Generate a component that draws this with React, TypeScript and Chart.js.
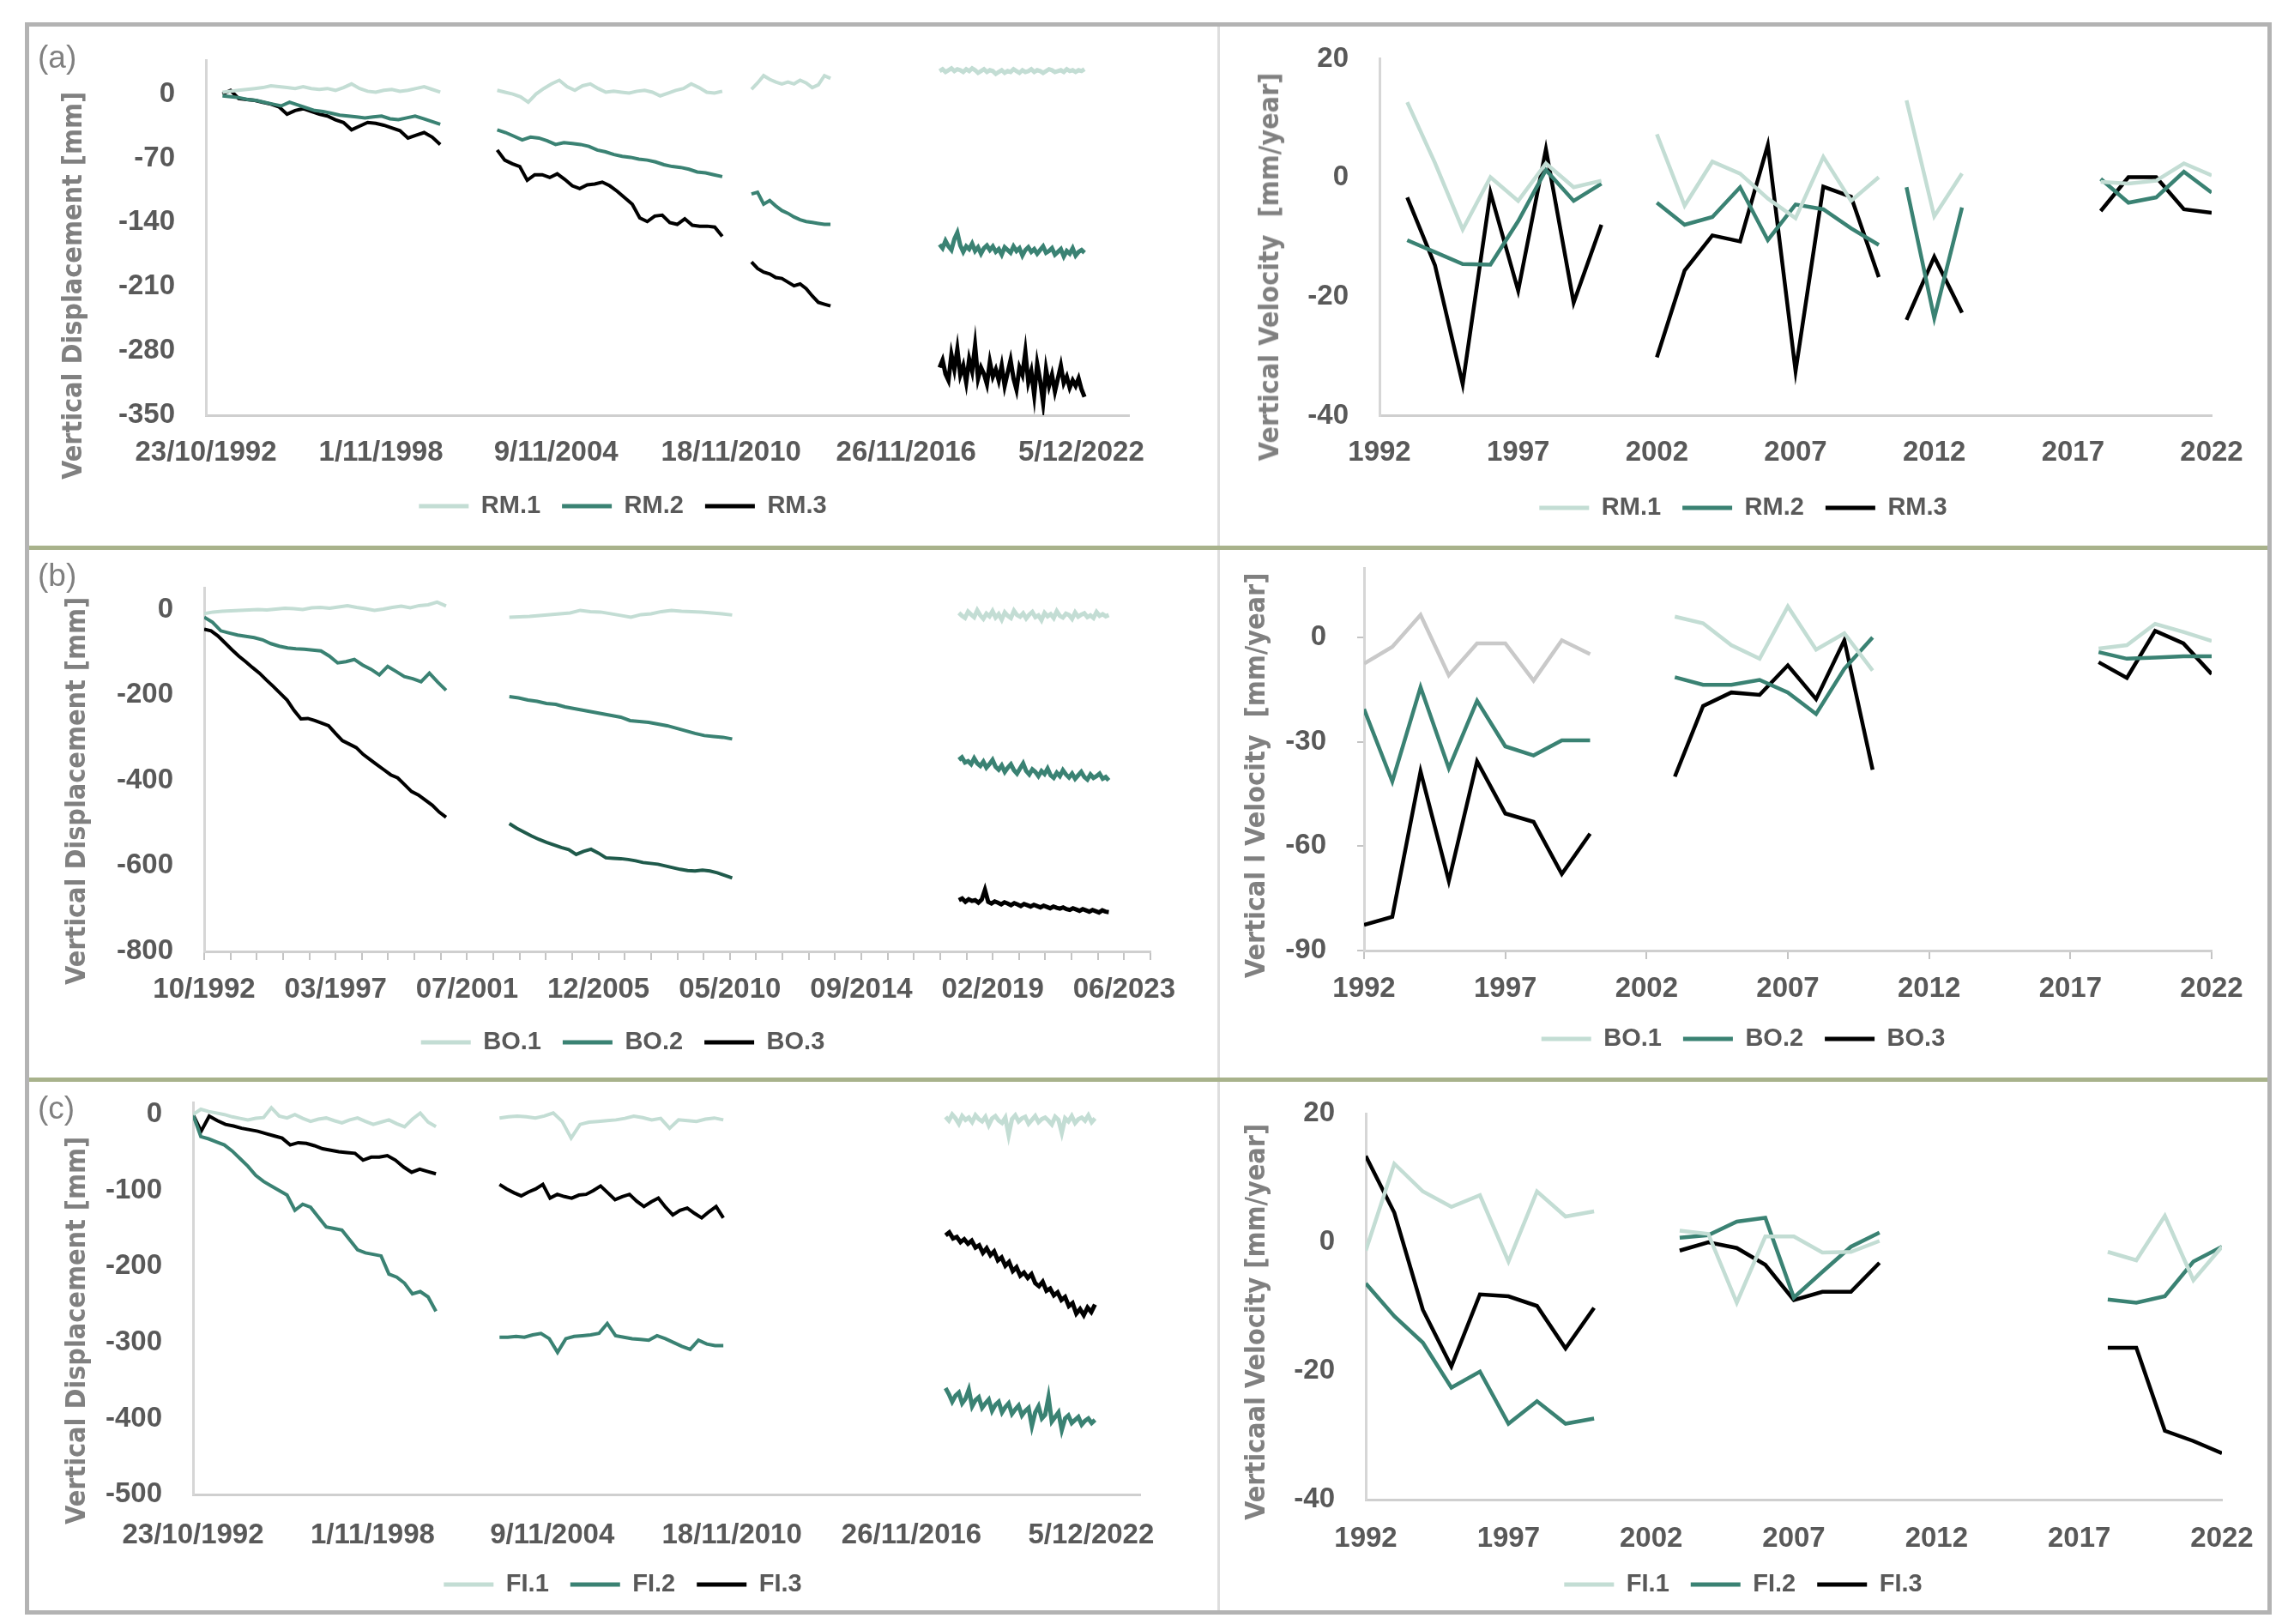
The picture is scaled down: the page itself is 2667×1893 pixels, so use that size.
import React, { useEffect, useRef } from "react";
import { Chart, registerables } from "chart.js";
Chart.register(...registerables);

const FONT = "'Liberation Sans', Arial, sans-serif";
const TITLE_FONT = "'DejaVu Sans', Verdana, sans-serif";
const TEXT = "#595959";
const C_LIGHT = "#c3ddd4";
const C_TEAL = "#3a8273";
const C_BLACK = "#000000";
const C_GRAY = "#c9c9c9";
const C_DARK = "#1f5a4b";

// ---------- axis tick labels ----------
const DATE_TICKS_AC = ["23/10/1992", "1/11/1998", "9/11/2004", "18/11/2010", "26/11/2016", "5/12/2022"];
const DATE_TICKS_B = ["10/1992", "03/1997", "07/2001", "12/2005", "05/2010", "09/2014", "02/2019", "06/2023"];
const YEAR_TICKS = [1992, 1997, 2002, 2007, 2012, 2017, 2022];
const Y_TICKS_A = [-350, -280, -210, -140, -70, 0];
const Y_TICKS_B = [-800, -600, -400, -200, 0];
const Y_TICKS_C = [-500, -400, -300, -200, -100, 0];
const V_TICKS_AC = [-40, -20, 0, 20];
const V_TICKS_B = [-90, -60, -30, 0];

// ---------- acquisition spans (d/m/yyyy) ----------
const SPAN_A = [["20/05/1993", "15/11/2000"], ["01/11/2002", "30/07/2010"], ["01/08/2011", "20/04/2014"], ["20/01/2018", "15/01/2023"]];
const SPAN_B = [["23/10/1992", "15/11/2000"], ["25/12/2002", "30/05/2010"], ["19/12/2017", "18/12/2022"]];
const SPAN_C = [["23/10/1992", "15/12/2000"], ["02/02/2003", "05/08/2010"], ["17/01/2018", "21/01/2023"]];

// ---------- (a) displacement [mm] ----------
const RM1_ERS = [2, 3, 4, 5, 6, 7, 9, 8, 7, 6, 8, 6, 5, 6, 4, 7, 11, 6, 3, 2, 4, 5, 3, 4, 6, 8, 5, 2];
const RM2_ERS = [-2, -3, -4, -6, -7, -9, -11, -13, -9, -12, -15, -18, -19, -21, -23, -24, -25, -26, -25, -24, -27, -28, -26, -24, -27, -30, -33];
const RM3_ERS = [0, 4, -5, -6, -7, -9, -11, -14, -22, -18, -16, -19, -22, -24, -28, -31, -39, -35, -31, -32, -34, -37, -40, -48, -45, -42, -47, -55];
const RM1_ENV = [4, 2, 0, -3, -9, 0, 6, 11, 15, 8, 4, 9, 11, 6, 2, 3, 2, 1, 3, 4, 2, -2, 1, 4, 6, 11, 7, 2, 1, 3];
const RM2_ENV = [-39, -42, -46, -50, -47, -48, -51, -55, -53, -54, -55, -57, -61, -63, -66, -68, -69, -71, -72, -74, -77, -79, -80, -82, -85, -86, -88, -90];
const RM3_ENV = [-61, -72, -76, -79, -94, -88, -88, -91, -87, -93, -100, -103, -99, -98, -96, -100, -106, -113, -120, -135, -139, -133, -132, -140, -142, -136, -143, -144, -144, -145, -155];
const RM1_ENV2 = [5, 12, 20, 16, 13, 11, 13, 11, 15, 12, 7, 10, 20, 17];
const RM2_ENV2 = [-109, -107, -120, -116, -122, -127, -130, -134, -137, -139, -140, -141, -142, -142];
const RM3_ENV2 = [-183, -190, -194, -196, -200, -201, -205, -209, -207, -212, -220, -227, -229, -231];
const RM1_S1 = [25, 27, 24, 26, 28, 25, 27, 26, 24, 27, 25, 28, 26, 23, 25, 27, 24, 26, 25, 22, 24, 26, 23, 25, 24, 27, 25, 23, 26, 24, 25, 27, 24, 26, 25, 23, 25, 27, 26, 24, 25, 26, 24, 27, 25, 26, 24, 26, 25, 27];
const RM2_S1 = [-164, -168, -160, -166, -170, -158, -151, -165, -172, -166, -169, -163, -171, -167, -174, -168, -165, -170, -166, -172, -169, -175, -167, -170, -173, -166, -171, -168, -176, -170, -167, -172, -169, -174, -170, -166, -173, -171, -168, -175, -172, -169, -177, -171, -174, -168, -176, -172, -170, -173];
const RM3_S1 = [-298, -290, -305, -312, -284, -300, -278, -306, -296, -314, -289, -302, -274, -310, -298, -305, -316, -292, -308, -300, -312, -296, -318, -304, -290, -310, -322, -298, -306, -281, -314, -302, -328, -294, -312, -336, -300, -318, -306, -324, -310, -296, -315, -308, -320, -312, -318, -310, -322, -330];

// ---------- (b) displacement [mm] ----------
const BO1_ERS = [-10, -6, -4, -3, -2, -1, 0, -1, 1, 3, 2, 0, 4, 5, 3, 6, 9, 5, 2, -2, 1, 5, 8, 4, 9, 11, 17, 8];
const BO2_ERS = [-18, -30, -50, -55, -60, -63, -66, -71, -80, -86, -90, -92, -93, -95, -97, -109, -125, -122, -117, -130, -140, -153, -133, -145, -157, -162, -169, -149, -170, -189];
const BO3_ERS = [-46, -50, -62, -78, -94, -109, -122, -136, -149, -165, -180, -196, -212, -236, -256, -255, -260, -266, -272, -290, -307, -315, -323, -339, -351, -363, -375, -387, -394, -410, -426, -434, -446, -458, -474, -486];
const BO1_ENV = [-18, -17, -16, -14, -12, -10, -8, -2, -5, -6, -10, -14, -18, -12, -10, -5, -2, -4, -5, -6, -8, -10, -13];
const BO2_ENV = [-204, -207, -212, -215, -220, -222, -228, -232, -236, -240, -244, -248, -252, -260, -262, -264, -268, -272, -278, -284, -290, -295, -297, -299, -303];
const BO3_ENV = [-501, -512, -521, -530, -538, -545, -551, -557, -562, -573, -566, -561, -570, -581, -582, -583, -585, -588, -592, -594, -596, -600, -604, -608, -611, -612, -610, -612, -616, -622, -628];
const BO1_S1 = [-8, -15, -20, -5, -12, -18, -2, -14, -22, -10, -16, -4, -19, -11, -24, -7, -15, -20, -3, -13, -17, -9, -21, -12, -6, -18, -14, -25, -8, -16, -11, -20, -4, -15, -19, -10, -13, -22, -7, -17, -12, -9, -18, -14, -20, -6, -15, -11, -16, -13];
const BO2_S1 = [-352, -346, -358, -355, -362, -348, -360, -366, -356, -370, -362, -352, -368, -375, -365, -380, -370, -362, -376, -384, -372, -360, -378, -386, -374, -380, -390, -378, -385, -372, -388, -394, -382, -390, -376, -386, -393, -384, -396, -388, -380, -392, -398, -386, -394, -390, -384, -396, -392, -400];
const BO3_S1 = [-680, -676, -684, -678, -682, -680, -686, -679, -656, -684, -688, -683, -686, -690, -685, -688, -692, -687, -690, -694, -689, -692, -695, -691, -694, -697, -693, -696, -699, -695, -698, -700, -697, -701, -703, -699, -702, -705, -701, -704, -707, -703, -706, -709, -704, -707, -708];

// ---------- (c) displacement [mm] ----------
const FI1_ERS = [0, 7, 4, 2, 0, -3, -5, -7, -5, -4, 9, -2, -4.5, 0, -5, -9, -6, -4.5, -8, -11, -7, -4.5, -9, -13, -10, -7, -12, -16, -6, 2, -10, -16];
const FI2_ERS = [0, -29, -32, -36, -40, -48, -58, -68, -80, -88, -94, -100, -106, -126, -118, -122, -135, -148, -150, -152, -165, -178, -182, -184, -186, -210, -214, -222, -236, -233, -240, -259];
const FI3_ERS = [0, -22, -2, -8, -13, -15, -18, -20, -22, -25, -28, -31, -40, -37, -38, -41, -45, -47, -49, -50, -51, -60, -56, -56, -54, -60, -69, -76, -72, -75, -78];
const FI1_ENV = [-4.5, -3, -2, -3, -4.5, -2, 2, -9, -31, -13, -10, -9, -8, -7, -5, -2, -4, -7, -5, -18, -7, -8, -9, -6, -4.5, -7];
const FI2_ENV = [-293, -293, -292, -293, -290, -288, -295, -313, -295, -292, -291, -290, -288, -275, -291, -293, -295, -296, -297, -291, -295, -300, -305, -309, -297, -302, -304, -304];
const FI3_ENV = [-92, -98, -103, -107, -102, -98, -92, -110, -105, -108, -110, -106, -105, -100, -94, -103, -112, -108, -105, -114, -121, -115, -110, -122, -132, -126, -123, -130, -136, -128, -121, -136];
const FI1_S1 = [-3, -8, 0, -5, -12, -2, -7, -4, -10, -1, -6, -9, -3, -14, -5, -2, -8, -11, -4, -27, -6, -1, -9, -5, -3, -12, -7, -2, -10, -6, -4, -8, -13, -3, -7, -24, -5, -9, -2, -11, -6, -4, -8, -1, -10, -5];
const FI2_S1 = [-360, -368, -378, -370, -366, -380, -374, -362, -384, -376, -372, -386, -380, -375, -390, -382, -378, -392, -385, -380, -394, -388, -383, -396, -390, -386, -410, -392, -384, -400, -395, -372, -404, -398, -392, -415, -400, -396, -406, -402, -398, -408, -403, -400, -406, -402];
const FI3_S1 = [-159, -155, -163, -161, -168, -164, -170, -166, -175, -172, -182, -176, -185, -180, -192, -188, -199, -194, -206, -201, -212, -208, -215, -210, -222, -226, -220, -232, -229, -238, -234, -244, -240, -252, -248, -262, -256, -264, -254, -260, -250];

// ---------- velocities [mm/year]: [year, value] (null = break) ----------
type VP = [number, number | null];
const RM1_VEL: VP[] = [[1993, 12.7], [1994, 2.5], [1995, -8.7], [1996, 0.1], [1997, -3.9], [1998, 2.4], [1999, -1.6], [2000, -0.5], [2001, null], [2002, 7.3], [2003, -4.7], [2004, 2.7], [2005, 0.7], [2006, -3.5], [2007, -6.8], [2008, 3.5], [2009, -3.9], [2010, 0.1], [2010.5, null], [2011, 13], [2012, -6.5], [2013, 0.7], [2015, null], [2018, -0.7], [2019, -1], [2020, -0.5], [2021, 2.4], [2022, 0.4]];
const RM2_VEL: VP[] = [[1993, -10.5], [1994, -12.5], [1995, -14.5], [1996, -14.6], [1997, -7.3], [1998, 1.3], [1999, -3.9], [2000, -1], [2001, null], [2002, -4.2], [2003, -7.9], [2004, -6.6], [2005, -1.6], [2006, -10.5], [2007, -4.5], [2008, -5.3], [2009, -8.5], [2010, -11.3], [2010.5, null], [2011, -1.6], [2012, -23.6], [2013, -5], [2015, null], [2018, -0.2], [2019, -4.2], [2020, -3.3], [2021, 1], [2022, -2.5]];
const RM3_VEL: VP[] = [[1993, -3.3], [1994, -14.7], [1995, -34.7], [1996, -2.5], [1997, -19], [1998, 4.8], [1999, -21], [2000, -7.9], [2001, null], [2002, -30.2], [2003, -15.6], [2004, -9.7], [2005, -10.7], [2006, 5.5], [2007, -32.5], [2008, -1.5], [2009, -3.2], [2010, -16.7], [2010.5, null], [2011, -23.9], [2012, -13.3], [2013, -22.7], [2015, null], [2018, -5.6], [2019, 0.1], [2020, 0.1], [2021, -5.3], [2022, -5.9]];
const BO1_VEL: VP[] = [[1992, -7.5], [1993, -2.7], [1994, 6.5], [1995, -10.9], [1996, -1.7], [1997, -1.7], [1998, -12.4], [1999, -0.8], [2000, -4.8], [2001, null], [2003, 6], [2004, 4.1], [2005, -2.2], [2006, -6.1], [2007, 8.9], [2008, -3.5], [2009, 1.2], [2010, -9.5], [2014, null], [2018, -3.2], [2019, -2.2], [2020, 3.9], [2021, 1.6], [2022, -1]];
const BO2_VEL: VP[] = [[1992, -20.6], [1993, -41.4], [1994, -14.3], [1995, -37.6], [1996, -18.2], [1997, -31.3], [1998, -33.9], [1999, -29.6], [2000, -29.6], [2001, null], [2003, -11.4], [2004, -13.6], [2005, -13.6], [2006, -12.2], [2007, -15.8], [2008, -22], [2009, -9], [2010, 0], [2014, null], [2018, -4.2], [2019, -6.1], [2020, -5.8], [2021, -5.4], [2022, -5.4]];
const BO3_VEL: VP[] = [[1992, -82.6], [1993, -80.3], [1994, -38.5], [1995, -70], [1996, -35.6], [1997, -50.6], [1998, -53], [1999, -68], [2000, -56.4], [2001, null], [2003, -40], [2004, -19.7], [2005, -15.8], [2006, -16.5], [2007, -8], [2008, -17.7], [2009, -0.8], [2010, -38], [2014, null], [2018, -7.1], [2019, -11.6], [2020, 1.9], [2021, -1.7], [2022, -10.5]];
const FI1_VEL: VP[] = [[1992, -1.3], [1993, 12.2], [1994, 7.9], [1995, 5.5], [1996, 7.3], [1997, -3], [1998, 7.9], [1999, 4], [2000, 4.8], [2001, null], [2003, 1.8], [2004, 1.3], [2005, -9.4], [2006, 0.9], [2007, 0.9], [2008, -1.6], [2009, -1.5], [2010, 0.2], [2014, null], [2018, -1.5], [2019, -2.8], [2020, 4.1], [2021, -5.9], [2022, -0.7]];
const FI2_VEL: VP[] = [[1992, -6.4], [1993, -11.5], [1994, -15.6], [1995, -22.6], [1996, -20.1], [1997, -28.2], [1998, -24.7], [1999, -28.2], [2000, -27.4], [2001, null], [2003, 0.7], [2004, 1.1], [2005, 3.2], [2006, 3.8], [2007, -8.6], [2008, -4.6], [2009, -0.7], [2010, 1.5], [2014, null], [2018, -8.9], [2019, -9.4], [2020, -8.4], [2021, -3], [2022, -0.7]];
const FI3_VEL: VP[] = [[1992, 13.4], [1993, 4.6], [1994, -10.5], [1995, -19.3], [1996, -8.1], [1997, -8.4], [1998, -9.9], [1999, -16.5], [2000, -10.2], [2001, null], [2003, -1.3], [2004, 0], [2005, -0.9], [2006, -3.5], [2007, -9], [2008, -7.7], [2009, -7.7], [2010, -3.2], [2014, null], [2018, -16.4], [2019, -16.4], [2020, -29.3], [2021, -30.9], [2022, -32.8]];

// ---------- helpers ----------
const ORIGIN = Date.UTC(1992, 9, 23);
function dayOf(s: string): number {
  const [d, m, y] = s.split("/").map(Number);
  return Math.round((Date.UTC(y, m - 1, d) - ORIGIN) / 86400000);
}
function series(span: string[][], segs: number[][]) {
  const pts: { x: number; y: number | null }[] = [];
  segs.forEach((vals, i) => {
    const a = dayOf(span[i][0]);
    const b = dayOf(span[i][1]);
    vals.forEach((v, j) => pts.push({ x: a + ((b - a) * j) / (vals.length - 1), y: v }));
    pts.push({ x: b + 1, y: null });
  });
  return pts;
}
const vel = (arr: VP[]) => arr.map(([x, y]) => ({ x, y }));
const S1_START = dayOf("01/01/2017");

const tickFont = { family: FONT, size: 33, weight: "bold" as const };

type Opt = {
  datasets: any[];
  xMin: number; xMax: number; xTicks: { value: number; label: string }[];
  yMin: number; yMax: number; yTicks: number[];
  side: number; top: number; bottom: number;
  yWidth: number; xHeight: number; xPad: number;
  xTickLen?: number; yTickLen?: number;
};

function makeConfig(o: Opt): any {
  return {
    type: "line",
    data: { datasets: o.datasets },
    options: {
      animation: false,
      responsive: false,
      devicePixelRatio: 1,
      layout: { padding: { left: o.side, right: o.side, top: o.top, bottom: o.bottom } },
      elements: { point: { radius: 0 }, line: { tension: 0 } },
      plugins: {
        tooltip: { enabled: false },
        legend: {
          position: "bottom",
          labels: {
            font: { family: FONT, size: 29, weight: "bold" },
            color: TEXT,
            boxWidth: 58,
            boxHeight: 5,
            padding: 25,
            generateLabels: (chart: any) =>
              Chart.defaults.plugins.legend.labels.generateLabels(chart).map((l: any) => ({
                ...l, lineWidth: 0, fillStyle: l.strokeStyle,
              })),
          },
        },
      },
      scales: {
        x: {
          type: "linear",
          min: o.xMin,
          max: o.xMax,
          afterBuildTicks: (ax: any) => { ax.ticks = o.xTicks.map((t) => ({ value: t.value })); },
          afterFit: (ax: any) => {
            ax.height = o.xHeight;
            ax.paddingLeft = 0; ax.paddingRight = 0; ax.paddingTop = 0; ax.paddingBottom = 0;
          },
          ticks: {
            autoSkip: false, maxRotation: 0, minRotation: 0, padding: o.xPad,
            color: TEXT, font: tickFont,
            callback: (_v: any, i: number) => (o.xTicks[i] ? o.xTicks[i].label : ""),
          },
          grid: {
            display: true, drawOnChartArea: false,
            drawTicks: !!o.xTickLen, tickLength: o.xTickLen || 0,
            color: "#c4c4c4", lineWidth: 2,
          },
          border: { display: true, color: "#cfcfcf", width: 3 },
        },
        y: {
          min: o.yMin,
          max: o.yMax,
          afterBuildTicks: (ax: any) => { ax.ticks = o.yTicks.map((v) => ({ value: v })); },
          afterFit: (ax: any) => {
            ax.width = o.yWidth;
            ax.paddingLeft = 0; ax.paddingRight = 0; ax.paddingTop = 0; ax.paddingBottom = 0;
          },
          ticks: { padding: 36, color: TEXT, font: tickFont, callback: (v: any) => String(v) },
          grid: {
            display: true, drawOnChartArea: false,
            drawTicks: !!o.yTickLen, tickLength: o.yTickLen || 0,
            color: "#c4c4c4", lineWidth: 2,
          },
          border: { display: true, color: "#d6d6d6", width: 3 },
        },
      },
    },
  };
}

// displacement dataset: Sentinel-1 part is denser, drawn a little heavier
const disp = (label: string, color: string, data: any[], colorFn?: (c: any) => string | undefined) => ({
  label, data, borderColor: color, backgroundColor: color, borderWidth: 4,
  pointRadius: 0, spanGaps: false,
  segment: {
    borderWidth: (c: any) => (c.p0.parsed.x >= S1_START ? 5 : undefined),
    borderColor: colorFn || (() => undefined),
  },
});
const velo = (label: string, color: string, data: any[], colorFn?: (c: any) => string | undefined) => ({
  label, data, borderColor: color, backgroundColor: color, borderWidth: 4.5,
  pointRadius: 0, spanGaps: false,
  segment: { borderColor: colorFn || (() => undefined) },
});

const acTicks = DATE_TICKS_AC.map((l) => ({ value: dayOf(l), label: l }));
const bTicks = Array.from({ length: 37 }, (_, i) => ({ value: i * 320, label: i % 5 === 0 ? DATE_TICKS_B[i / 5] : "" }));
const yearTicks = YEAR_TICKS.map((y) => ({ value: y, label: String(y) }));

const B_ENV_START = dayOf(SPAN_B[1][0]);
const B_ENV_END = dayOf(SPAN_B[1][1]);

const PANELS: { x: number; y: number; w: number; h: number; cfg: () => any }[] = [
  {
    x: 34, y: 31, w: 1384, h: 605,
    cfg: () => makeConfig({
      datasets: [
        disp("RM.1", C_LIGHT, series(SPAN_A, [RM1_ERS, RM1_ENV, RM1_ENV2, RM1_S1])),
        disp("RM.2", C_TEAL, series(SPAN_A, [RM2_ERS, RM2_ENV, RM2_ENV2, RM2_S1])),
        disp("RM.3", C_BLACK, series(SPAN_A, [RM3_ERS, RM3_ENV, RM3_ENV2, RM3_S1])),
      ],
      xMin: 0, xMax: 11600, xTicks: acTicks,
      yMin: -350, yMax: 37, yTicks: Y_TICKS_A,
      side: 102, top: 39, bottom: 21.5,
      yWidth: 104, xHeight: 66.5, xPad: 24,
    }),
  },
  {
    x: 1422, y: 31, w: 1220, h: 605,
    cfg: () => makeConfig({
      datasets: [
        velo("RM.1", C_LIGHT, vel(RM1_VEL)),
        velo("RM.2", C_TEAL, vel(RM2_VEL)),
        velo("RM.3", C_BLACK, vel(RM3_VEL)),
      ],
      xMin: 1992, xMax: 2022, xTicks: yearTicks,
      yMin: -40, yMax: 20, yTicks: V_TICKS_AC,
      side: 64, top: 37.5, bottom: 19.5,
      yWidth: 122, xHeight: 68, xPad: 24,
    }),
  },
  {
    x: 34, y: 641, w: 1384, h: 615,
    cfg: () => makeConfig({
      datasets: [
        disp("BO.1", C_LIGHT, series(SPAN_B, [BO1_ERS, BO1_ENV, BO1_S1])),
        disp("BO.2", C_TEAL, series(SPAN_B, [BO2_ERS, BO2_ENV, BO2_S1])),
        disp("BO.3", C_BLACK, series(SPAN_B, [BO3_ERS, BO3_ENV, BO3_S1]), (c: any) =>
          c.p0.parsed.x >= B_ENV_START && c.p1.parsed.x <= B_ENV_END ? C_DARK : undefined),
      ],
      xMin: 0, xMax: 11520, xTicks: bTicks,
      yMin: -800, yMax: 50, yTicks: Y_TICKS_B,
      side: 77, top: 44.5, bottom: 16.5,
      yWidth: 127, xHeight: 66.5, xPad: 15, xTickLen: 10,
    }),
  },
  {
    x: 1422, y: 641, w: 1220, h: 615,
    cfg: () => makeConfig({
      datasets: [
        velo("BO.1", C_LIGHT, vel(BO1_VEL), (c: any) => (c.p1.parsed.x <= 2001 ? C_GRAY : undefined)),
        velo("BO.2", C_TEAL, vel(BO2_VEL)),
        velo("BO.3", C_BLACK, vel(BO3_VEL)),
      ],
      xMin: 1992, xMax: 2022, xTicks: yearTicks,
      yMin: -90, yMax: 20, yTicks: V_TICKS_B,
      side: 64, top: 21, bottom: 20.5,
      yWidth: 104, xHeight: 63.5, xPad: 15, xTickLen: 10, yTickLen: 8,
    }),
  },
  {
    x: 34, y: 1261, w: 1384, h: 616,
    cfg: () => makeConfig({
      datasets: [
        disp("FI.1", C_LIGHT, series(SPAN_C, [FI1_ERS, FI1_ENV, FI1_S1])),
        disp("FI.2", C_TEAL, series(SPAN_C, [FI2_ERS, FI2_ENV, FI2_S1])),
        disp("FI.3", C_BLACK, series(SPAN_C, [FI3_ERS, FI3_ENV, FI3_S1])),
      ],
      xMin: 0, xMax: 11600, xTicks: acTicks,
      yMin: -500, yMax: 16, yTicks: Y_TICKS_C,
      side: 89, top: 24, bottom: 5.5,
      yWidth: 102, xHeight: 65.5, xPad: 28,
    }),
  },
  {
    x: 1422, y: 1261, w: 1220, h: 616,
    cfg: () => makeConfig({
      datasets: [
        velo("FI.1", C_LIGHT, vel(FI1_VEL)),
        velo("FI.2", C_TEAL, vel(FI2_VEL)),
        velo("FI.3", C_BLACK, vel(FI3_VEL)),
      ],
      xMin: 1992, xMax: 2022, xTicks: yearTicks,
      yMin: -40, yMax: 20, yTicks: V_TICKS_AC,
      side: 52, top: 37, bottom: 5.5,
      yWidth: 118, xHeight: 59.5, xPad: 26,
    }),
  },
];

const TITLES = [
  { text: "Vertical Displacement [mm]", x: 84, y: 333 },
  { text: "Vertical Velocity  [mm/year]", x: 1479, y: 311 },
  { text: "Vertical Displacement [mm]", x: 88, y: 922 },
  { text: "Vertical l Velocity  [mm/year]", x: 1463, y: 904 },
  { text: "Vertical Displacement [mm]", x: 88, y: 1551 },
  { text: "Verticaal Velocity [mm/year]", x: 1463, y: 1541 },
];
const PANEL_LABELS = [
  { text: "(a)", x: 44, y: 48 },
  { text: "(b)", x: 44, y: 652 },
  { text: "(c)", x: 44, y: 1273 },
];

function ChartCanvas({ x, y, w, h, cfg }: { x: number; y: number; w: number; h: number; cfg: () => any }) {
  const ref = useRef<HTMLCanvasElement | null>(null);
  useEffect(() => {
    if (!ref.current) return;
    const chart = new Chart(ref.current, cfg());
    return () => chart.destroy();
  }, []);
  return (
    <canvas
      ref={ref}
      width={w}
      height={h}
      style={{ position: "absolute", left: x, top: y, width: w, height: h }}
    />
  );
}

export default function App() {
  return (
    <div style={{ position: "absolute", left: 0, top: 0, width: 2667, height: 1893, background: "#ffffff", overflow: "hidden" }}>
      {PANELS.map((p, i) => (
        <ChartCanvas key={i} {...p} />
      ))}
      {TITLES.map((t, i) => (
        <div
          key={"t" + i}
          style={{
            position: "absolute", left: t.x, top: t.y,
            transform: "translate(-50%, -50%) rotate(-90deg) scaleX(0.9)",
            whiteSpace: "pre", fontFamily: TITLE_FONT, fontWeight: "bold",
            fontSize: 32, color: "#808080", lineHeight: 1,
          }}
        >
          {t.text}
        </div>
      ))}
      {PANEL_LABELS.map((t, i) => (
        <div
          key={"l" + i}
          style={{
            position: "absolute", left: t.x, top: t.y, fontFamily: FONT,
            fontSize: 37, color: "#808080", lineHeight: 1,
          }}
        >
          {t.text}
        </div>
      ))}
      <div style={{ position: "absolute", left: 29, top: 26, width: 2619, height: 1856, border: "5px solid #b3b3b3", boxSizing: "border-box" }} />
      <div style={{ position: "absolute", left: 34, top: 636, width: 2609, height: 5, background: "#a8b28b" }} />
      <div style={{ position: "absolute", left: 34, top: 1256, width: 2609, height: 5, background: "#a8b28b" }} />
      <div style={{ position: "absolute", left: 1419, top: 31, width: 3, height: 605, background: "#dedede" }} />
      <div style={{ position: "absolute", left: 1419, top: 641, width: 3, height: 615, background: "#dedede" }} />
      <div style={{ position: "absolute", left: 1419, top: 1261, width: 3, height: 616, background: "#dedede" }} />
    </div>
  );
}
